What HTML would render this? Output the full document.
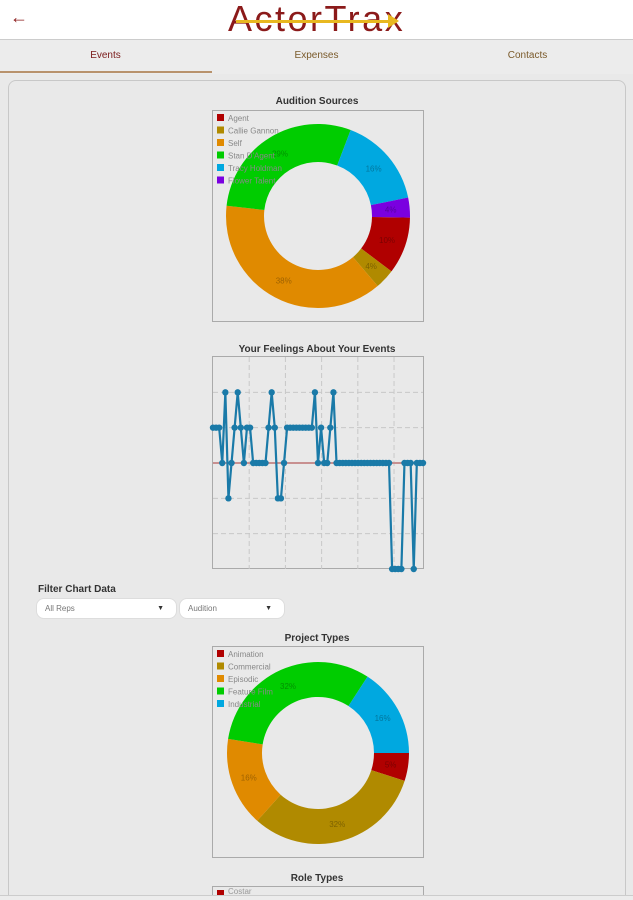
<!DOCTYPE html>
<html><head><meta charset="utf-8">
<style>
*{box-sizing:border-box;margin:0;padding:0}
html,body{width:633px;height:900px;overflow:hidden}
body{background:#e9e9e9;font-family:"Liberation Sans",sans-serif;position:relative}
.abs{position:absolute}
#header{left:0;top:0;width:633px;height:40px;background:#fff;border-bottom:1px solid #ccc}
#tabs{left:0;top:40px;width:633px;height:34px;background:#ececec}
.tab{position:absolute;top:0;height:34px;line-height:32px;font-size:10px;color:#7a5a2a;text-align:center;width:211px}
#panel{left:8px;top:80px;width:618px;height:830px;border:1px solid #c8c8c8;border-radius:8px;background:#e9e9e9}
.title{position:absolute;font-size:10px;font-weight:bold;color:#333;text-align:center;width:212px}
.box{position:absolute;border:1px solid #aaa}
.dd{position:absolute;top:598px;height:21px;background:#fff;border-radius:8px;border:1px solid #ddd;font-size:8px;color:#777;line-height:19px;padding-left:8px}
.dd span{position:absolute;right:12px;top:0;font-size:7px;color:#333}
</style></head><body>
<div id="header" class="abs">
  <div class="abs" style="left:10px;top:7px;font-size:18px;color:#8b1a1a">&#8592;</div>
  <div class="abs" style="left:228px;top:0px;width:180px;height:40px">
    <div class="abs" style="left:0;top:0px;font-size:36px;line-height:38px;color:#8b1a1a;letter-spacing:2.5px;font-family:'Liberation Sans',sans-serif">ActorTrax</div>
    <div class="abs" style="left:8px;top:20px;width:156px;height:3px;background:#e8b820"></div>
    <div class="abs" style="left:160px;top:14px;width:0;height:0;border-left:11px solid #e8b820;border-top:7px solid transparent;border-bottom:7px solid transparent"></div>
  </div>
</div>
<div id="tabs" class="abs">
  <div class="tab" style="left:0;color:#7a1a1a">Events</div>
  <div class="tab" style="left:211px">Expenses</div>
  <div class="tab" style="left:422px">Contacts</div>
  <div class="abs" style="left:0;top:31px;width:212px;height:2px;background:#b8926c"></div>
</div>
<div id="panel" class="abs"></div>

<div class="title" style="left:211px;top:96px">Audition Sources</div>
<div class="box" style="left:212px;top:110px;width:212px;height:212px">
<svg id="d1" width="210" height="210"></svg></div>

<div class="title" style="left:211px;top:344px">Your Feelings About Your Events</div>
<div class="box" style="left:212px;top:356px;width:212px;height:213px">
<svg id="lc" width="212" height="220" style="overflow:visible;position:absolute;left:-1px;top:-1px"></svg></div>

<div class="abs" style="left:38px;top:584px;font-size:10px;font-weight:bold;color:#333">Filter Chart Data</div>
<div class="dd" style="left:36px;width:141px">All Reps<span>&#9660;</span></div>
<div class="dd" style="left:179px;width:106px">Audition<span>&#9660;</span></div>

<div class="title" style="left:211px;top:633px">Project Types</div>
<div class="box" style="left:212px;top:646px;width:212px;height:212px">
<svg id="d2" width="210" height="210"></svg></div>

<div class="title" style="left:211px;top:873px">Role Types</div>
<div class="box" style="left:212px;top:886px;width:212px;height:12px;border-bottom:none">
<div class="abs" style="left:4px;top:3px;width:7px;height:6px;background:#b00000"></div>
<div class="abs" style="left:15px;top:0px;font-size:8px;color:#999">Costar</div></div>
<div class="abs" style="left:0;top:895px;width:633px;height:5px;border-top:1px solid #ccc;background:#ececec"></div>

<script>
const NS="http://www.w3.org/2000/svg";
const src_labels=["Agent","Callie Gannon","Self","Stan D'Agent","Tracy Holdman","Flower Talent"];
const src_values=[10,3.5,38,29,16,3.5];
const src_colors=["#b00000","#b08a00","#e08a00","#00cc00","#00a8e0","#7a00e0"];
const proj_labels=["Animation","Commercial","Episodic","Feature Film","Industrial"];
const proj_values=[5,32,16,32,16];
const proj_colors=["#b00000","#b08a00","#e08a00","#00cc00","#00a8e0"];
const feel_values=[1,1,1,0,2,-1,0,1,2,1,0,1,1,0,0,0,0,0,1,2,1,-1,-1,0,1,1,1,1,1,1,1,1,1,2,0,1,0,0,1,2,0,0,0,0,0,0,0,0,0,0,0,0,0,0,0,0,0,0,-3,-3,-3,-3,0,0,0,-3,0,0,0];
const feel_ticks=[-3,-2,-1,0,1,2,3];

function el(t,a,p){const e=document.createElementNS(NS,t);for(const k in a)e.setAttribute(k,a[k]);p.appendChild(e);return e;}
function donut(id,labels,values,colors,cx,cy,ro,ri,start){
  const svg=document.getElementById(id);
  const tot=values.reduce((a,b)=>a+b,0);
  let a=start*Math.PI/180;
  values.forEach((v,i)=>{
    const b=a+v/tot*2*Math.PI, L=(b-a)>Math.PI?1:0;
    const p=(r,t)=>[cx+r*Math.cos(t),cy+r*Math.sin(t)];
    const [x1,y1]=p(ro,a),[x2,y2]=p(ro,b),[x3,y3]=p(ri,b),[x4,y4]=p(ri,a);
    const s=el("path",{d:`M${x1},${y1}A${ro},${ro} 0 ${L} 1 ${x2},${y2}L${x3},${y3}A${ri},${ri} 0 ${L} 0 ${x4},${y4}Z`,fill:colors[i]},svg);
    
    
    const m=(a+b)/2,[lx,ly]=p((ro+ri)/2,m);
    const t=el("text",{x:lx,y:ly+3,"font-size":8,fill:"rgba(0,0,0,0.3)","text-anchor":"middle","font-family":"Liberation Sans"},svg);
    t.textContent=Math.round(v/tot*100)+"%";
    
    
    a=b;
  });
  labels.forEach((l,i)=>{
    const r=el("rect",{x:4,y:3+i*12.5,width:7,height:7,fill:colors[i]},svg);
    
    
    const t=el("text",{x:15,y:10+i*12.5,"font-size":8,fill:"#888","font-family":"Liberation Sans"},svg);
    t.textContent=l;
    
    
  });
}
donut("d1",src_labels,src_values,src_colors,105,105,92,54,1);
donut("d2",proj_labels,proj_values,proj_colors,105,106,91,56,0);

(function(){
  const svg=document.getElementById("lc");
  const x0=1,x1=211,yTop=1,yBot=213;
  const ys=v=>yBot-(v+3)/6*(yBot-yTop);
  const xs=i=>x0+i/(feel_values.length-1)*(x1-x0);
  [1,2,3,4,5].forEach(k=>{const x=x0+k*(x1-x0)/5.8;
    el("line",{x1:x,x2:x,y1:yTop,y2:yBot,stroke:"#c8c8c8","stroke-dasharray":"5,3"},svg);});
  feel_ticks.forEach(t=>{if(t===-3||t===3||t===0)return;
    el("line",{x1:x0,x2:x1,y1:ys(t),y2:ys(t),stroke:"#c8c8c8","stroke-dasharray":"5,3"},svg);});
  const z=el("line",{x1:x0,x2:x1,y1:ys(0),y2:ys(0),stroke:"#c89090","stroke-width":2},svg);
  
  
  const pl=el("polyline",{points:feel_values.map((v,i)=>xs(i)+","+ys(v)).join(" "),fill:"none",stroke:"#1a7aa8","stroke-width":2.2},svg);
  
  
  feel_values.forEach((v,i)=>{
    const c=el("circle",{cx:xs(i),cy:ys(v),r:3.2,fill:"#1a7aa8"},svg);
    
    
  });
})();
</script>
</body></html>
